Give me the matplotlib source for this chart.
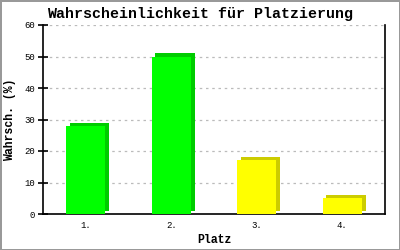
import matplotlib
matplotlib.use("Agg")
import matplotlib.pyplot as plt
import numpy as np

# Platzierung data
plaetze = ["1.", "2.", "3.", "4."]
wahrsch = [28, 50, 17, 5]
front_colors = ["#00ff00", "#00ff00", "#ffff00", "#ffff00"]
side_colors = ["#00cc00", "#00cc00", "#cccc00", "#cccc00"]

mono = "Liberation Mono"

fig = plt.figure(figsize=(4, 2.5), dpi=100)
fig.patch.set_facecolor("white")
fig.patch.set_edgecolor("#999999")
fig.patch.set_linewidth(2)
ax = fig.add_axes([0.1075, 0.144, 0.855, 0.756])

x = np.arange(len(plaetze))
w = 0.46
# darker "3D" side behind each bar
ax.bar(x + 0.045, wahrsch, width=w, bottom=1.0, color=side_colors, zorder=2)
ax.bar(x, wahrsch, width=w, color=front_colors, zorder=3)

ax.set_xlim(-0.5, 3.5)
ax.set_ylim(0, 60)
ax.set_yticks(range(0, 61, 10))
ax.set_xticks(x)
ax.set_xticklabels(plaetze)
for g in range(10, 61, 10):
    ax.axhline(g, color="#bbbbbb", linestyle=(0, (2, 3)), linewidth=0.9, zorder=1)

ax.spines["top"].set_visible(False)
for s in ["left", "right", "bottom"]:
    ax.spines[s].set_linewidth(1.2)
    ax.spines[s].set_color("black")
ax.tick_params(axis="y", direction="inout", length=7, width=1.2, labelsize=6.5, pad=2)
ax.tick_params(axis="x", length=0, labelsize=6.5, pad=5)
for lab in ax.get_xticklabels() + ax.get_yticklabels():
    lab.set_fontfamily(mono)

# title centred on the whole image, not the axes
fig.text(0.5, 0.945, "Wahrscheinlichkeit für Platzierung", fontfamily=mono,
         fontweight="bold", fontsize=10.8, ha="center", va="center")
ax.set_ylabel("Wahrsch. (%)", fontfamily=mono, fontweight="bold", fontsize=8.3)
ax.yaxis.set_label_coords(-0.078, 0.5)
ax.set_xlabel("Platz", fontfamily=mono, fontweight="bold", fontsize=8.3, labelpad=3)

fig.savefig("out.png", dpi=100, facecolor=fig.get_facecolor(), edgecolor=fig.get_edgecolor())
